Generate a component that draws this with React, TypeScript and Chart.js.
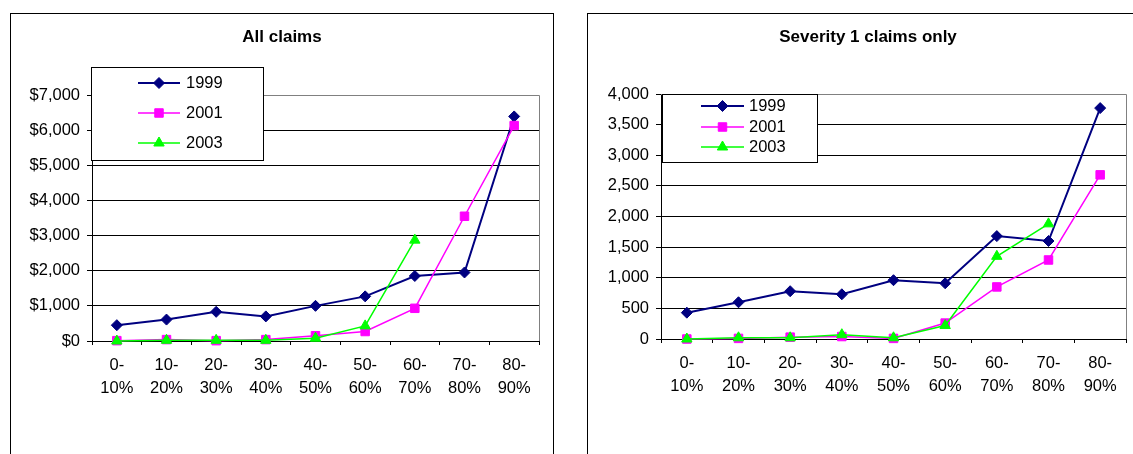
import React, { useEffect, useRef } from "react";
import { Chart, registerables } from "chart.js";
import { drawPoint } from "chart.js/helpers";

Chart.register(...registerables);

const FONT = 'Arial, "Liberation Sans", Helvetica, sans-serif';

// Loss-ratio bands on the x-axis, each drawn as a two-line label
const bands: string[][] = [
  ["0-", "10%"],
  ["10-", "20%"],
  ["20-", "30%"],
  ["30-", "40%"],
  ["40-", "50%"],
  ["50-", "60%"],
  ["60-", "70%"],
  ["70-", "80%"],
  ["80-", "90%"],
];

const seriesNames = ["1999", "2001", "2003"];
const seriesColors = ["#000080", "#FF00FF", "#00FF00"];
const seriesMarkers = ["rectRot", "rect", "triangle"];

// All claims (dollars)
const allClaims1999 = [450, 610, 830, 700, 1000, 1270, 1850, 1950, 6390];
const allClaims2001 = [10, 40, 10, 40, 150, 270, 930, 3550, 6130];
const allClaims2003 = [0, 20, 20, 20, 80, 430, 2870, null, null];

// Severity 1 claims only
const severity1999 = [430, 600, 780, 730, 960, 910, 1680, 1600, 3770];
const severity2001 = [0, 10, 30, 40, 10, 260, 850, 1290, 2680];
const severity2003 = [0, 20, 20, 70, 20, 220, 1350, 1880, null];

type Panel = {
  title: string;
  series: (number | null)[][];
  yMax: number;
  yStep: number;
  prefix: string;
  canvasW: number;
  canvasH: number;
  frameW: number;
  pageLeft: number;
  pageTop: number;
  area: { left: number; top: number; right: number; bottom: number };
  legend: { x: number; y: number; w: number; h: number; x0: number; x1: number; textX: number; rows: number[] };
};

const panels: Panel[] = [
  {
    title: "All claims",
    series: [allClaims1999, allClaims2001, allClaims2003],
    yMax: 7000,
    yStep: 1000,
    prefix: "$",
    canvasW: 544,
    canvasH: 441,
    frameW: 544,
    pageLeft: 10,
    pageTop: 13,
    area: { left: 82, top: 82, right: 529, bottom: 328 },
    legend: { x: 81, y: 54, w: 173, h: 94, x0: 128, x1: 170, textX: 176, rows: [70, 100, 130] },
  },
  {
    title: "Severity 1 claims only",
    series: [severity1999, severity2001, severity2003],
    yMax: 4000,
    yStep: 500,
    prefix: "",
    canvasW: 546,
    canvasH: 441,
    frameW: 562,
    pageLeft: 587,
    pageTop: 13,
    area: { left: 74, top: 81, right: 544, bottom: 326 },
    legend: { x: 75, y: 81, w: 156, h: 69, x0: 114, x1: 157, textX: 162, rows: [93, 114, 134] },
  },
];

function decorations(p: Panel) {
  return {
    id: "panelDecor",
    beforeDraw(chart: any) {
      const ctx = chart.ctx;
      ctx.save();
      ctx.fillStyle = "#fff";
      ctx.fillRect(0, 0, chart.width, chart.height);
      ctx.strokeStyle = "#000";
      ctx.lineWidth = 1;
      ctx.strokeRect(0.5, 0.5, p.frameW - 1, chart.height + 20);
      ctx.fillStyle = "#000";
      ctx.font = `bold 17px ${FONT}`;
      ctx.textAlign = "center";
      ctx.textBaseline = "middle";
      ctx.fillText(p.title, p.frameW / 2, 24);
      ctx.restore();
    },
    beforeDatasetsDraw(chart: any) {
      const { left, top, right, bottom } = chart.chartArea;
      const ctx = chart.ctx;
      ctx.save();
      ctx.strokeStyle = "#808080";
      ctx.lineWidth = 1;
      ctx.beginPath();
      ctx.moveTo(Math.round(left), Math.round(top) + 0.5);
      ctx.lineTo(Math.round(right) + 0.5, Math.round(top) + 0.5);
      ctx.lineTo(Math.round(right) + 0.5, Math.round(bottom));
      ctx.stroke();
      ctx.restore();
    },
    afterDraw(chart: any) {
      const ctx = chart.ctx;
      const lb = p.legend;
      ctx.save();
      ctx.fillStyle = "#fff";
      ctx.fillRect(lb.x, lb.y, lb.w, lb.h);
      ctx.strokeStyle = "#000";
      ctx.lineWidth = 1;
      ctx.strokeRect(lb.x + 0.5, lb.y + 0.5, lb.w - 1, lb.h - 1);
      chart.data.datasets.forEach((ds: any, i: number) => {
        const y = lb.rows[i];
        ctx.strokeStyle = ds.borderColor;
        ctx.lineWidth = ds.borderWidth;
        ctx.beginPath();
        ctx.moveTo(lb.x0, y);
        ctx.lineTo(lb.x1, y);
        ctx.stroke();
        ctx.fillStyle = ds.backgroundColor;
        ctx.strokeStyle = ds.borderColor;
        ctx.lineWidth = 1;
        drawPoint(ctx, { pointStyle: ds.pointStyle, radius: ds.pointRadius, rotation: 0, borderWidth: 1 } as any, (lb.x0 + lb.x1) / 2, y);
        ctx.fillStyle = "#000";
        ctx.font = `16.5px ${FONT}`;
        ctx.textAlign = "left";
        ctx.textBaseline = "middle";
        ctx.fillText(ds.label, lb.textX, y);
      });
      ctx.restore();
    },
  };
}

function ClaimsPanel({ p }: { p: Panel }) {
  const ref = useRef<HTMLCanvasElement>(null);
  useEffect(() => {
    const tickFont = { family: FONT, size: 16.5, lineHeight: 1.4 };
    const chart = new Chart(ref.current as HTMLCanvasElement, {
      type: "line",
      data: {
        labels: bands,
        datasets: p.series.map((data, i) => ({
          label: seriesNames[i],
          data,
          borderColor: seriesColors[i],
          backgroundColor: seriesColors[i],
          pointBackgroundColor: seriesColors[i],
          pointBorderColor: seriesColors[i],
          borderWidth: i === 0 ? 2 : 1.5,
          pointStyle: seriesMarkers[i] as any,
          pointRadius: i === 0 ? 5.5 : 6,
          pointBorderWidth: 1,
          tension: 0,
          spanGaps: false,
          clip: false as any,
          order: 3 - i,
        })),
      },
      options: {
        responsive: false,
        animation: false,
        devicePixelRatio: 1,
        events: [],
        layout: { padding: { left: 0, top: p.area.top, right: p.canvasW - p.area.right, bottom: 0 } },
        plugins: {
          legend: { display: false },
          title: { display: false },
          tooltip: { enabled: false },
        },
        scales: {
          x: {
            type: "category",
            offset: true,
            grid: { offset: true, drawOnChartArea: false, drawTicks: true, tickLength: 4, tickColor: "#000", color: "#000" },
            border: { display: true, color: "#000", width: 1 },
            ticks: { color: "#000", font: tickFont, padding: 9, maxRotation: 0, autoSkip: false },
            afterFit: (s: any) => {
              s.height = p.canvasH - p.area.bottom;
            },
          },
          y: {
            min: 0,
            max: p.yMax,
            grid: {
              color: (c: any) => (c.tick && c.tick.value === p.yMax ? "#808080" : "#000"),
              tickColor: "#000",
              tickLength: 5,
              lineWidth: 1,
            },
            border: { display: true, color: "#000", width: 1 },
            ticks: {
              stepSize: p.yStep,
              color: "#000",
              font: tickFont,
              padding: 7,
              callback: (v: any) => p.prefix + Number(v).toLocaleString("en-US"),
            },
            afterFit: (s: any) => {
              s.width = p.area.left;
            },
          },
        },
      },
      plugins: [decorations(p)],
    });
    return () => chart.destroy();
  }, [p]);
  return (
    <canvas
      ref={ref}
      width={p.canvasW}
      height={p.canvasH}
      style={{ position: "absolute", left: p.pageLeft, top: p.pageTop, width: p.canvasW, height: p.canvasH }}
    />
  );
}

export default function App() {
  return (
    <div style={{ position: "absolute", left: 0, top: 0, width: 1133, height: 454, overflow: "hidden", background: "#fff" }}>
      {panels.map((p) => (
        <ClaimsPanel key={p.title} p={p} />
      ))}
    </div>
  );
}
